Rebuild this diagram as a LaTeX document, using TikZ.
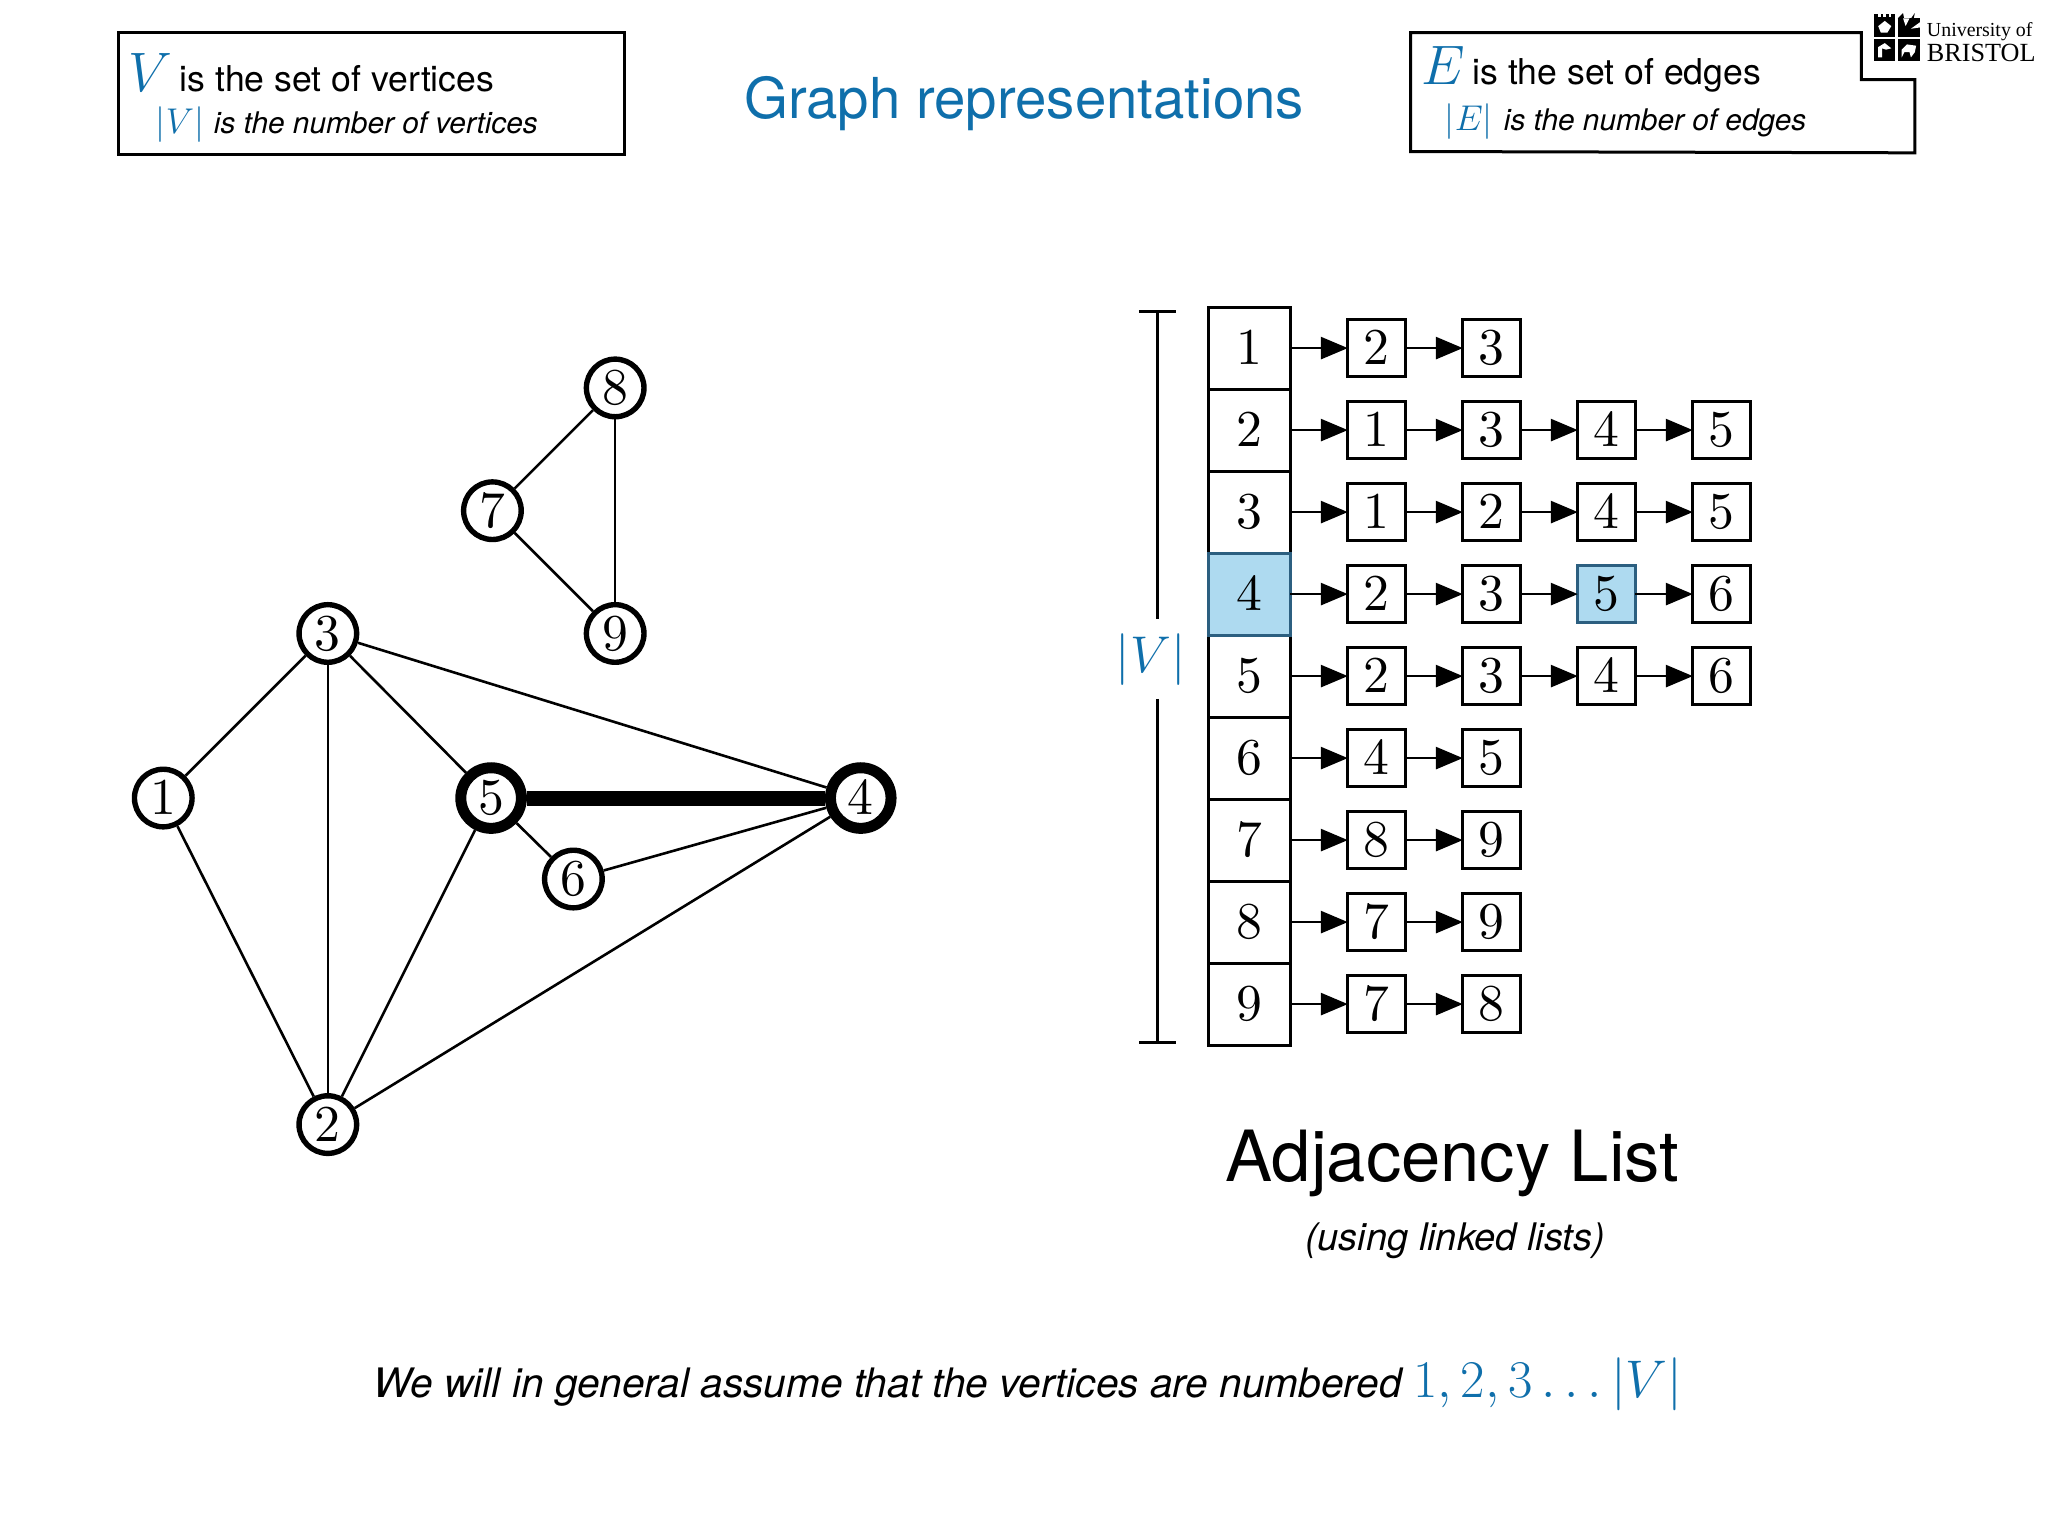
\documentclass[tikz,border=0pt]{standalone}
\usepackage{fix-cm}
\usepackage[no-math]{fontspec}
\setsansfont{TeX Gyre Heros}
\newfontfamily\logofont{Liberation Serif}
\usepackage{xcolor}
\usetikzlibrary{positioning,arrows.meta}
\definecolor{setblue}{HTML}{0F6FAB}
\definecolor{cellblue}{HTML}{AEDAF0}
\definecolor{celledge}{HTML}{2C5F80}
\font\digitfont=cmr10 at 25.85pt

\begin{document}
\begin{tikzpicture}[
                    x=0.65306pt, y=-0.65306pt,
                    >={Triangle[length=13.5pt,width=11pt]},
                    node distance=28.7pt,
                    vert/.style={circle, draw, line width=2.7pt, fill=white, inner sep=0pt, minimum size=28.8pt, font=\digitfont},
                    bigvert/.style={vert, line width=5.5pt, minimum size=30.3pt},
                    edge/.style={line width=1.3pt},
                    cell/.style={rectangle, draw, line width=1.5pt, inner sep=0pt, outer sep=0pt, minimum width=41.1pt, minimum height=41pt, font=\digitfont},
                    item/.style={rectangle, draw, line width=1.5pt, inner sep=0pt, outer sep=0pt, minimum size=28.8pt, font=\digitfont},
                    marked/.style={fill=cellblue, draw=celledge},
                    link/.style={->, line width=1.4pt},
                    rule/.style={line width=1.5pt},
                    bigline/.style={anchor=base west, inner sep=0pt, font=\sffamily\fontsize{17.8}{20}\selectfont},
                    smallline/.style={anchor=base west, inner sep=0pt, font=\sffamily\itshape\fontsize{14.9}{18}\selectfont}
            ]
                \useasboundingbox (0,0) rectangle (1568,1176);

                % top row
                \node [draw, rule, inner sep=0pt, outer sep=0pt, minimum width=252.7pt, minimum height=60.7pt] (vbox) at (284.5,71.5) {};
                \node [bigline] (vset) at (98,70) {\textcolor{setblue}{\fontsize{27.8}{30}\selectfont$V$}\hspace{3.8pt}is the set of vertices};
                \node [smallline] (vnum) at (119,102) {\textcolor{setblue}{\fontsize{17.9}{20}\selectfont$|V|$}\hspace{5pt}is the number of vertices};
                \node [inner sep=0pt, text=setblue, font=\sffamily\fontsize{28.2}{32}\selectfont] (title) at (784,79) {Graph representations};
                \draw [rule] (1080,25) -- (1425,25) -- (1425,61) -- (1466,61) -- (1466,117) -- (1080,116) -- cycle;
                \node [bigline] (eset) at (1088,65) {\textcolor{setblue}{\fontsize{27.8}{30}\selectfont$E$}\hspace{3.8pt}is the set of edges};
                \node [smallline] (enum) at (1106,100) {\textcolor{setblue}{\fontsize{17.9}{20}\selectfont$|E|$}\hspace{5.5pt}is the number of edges};

                % logo
                \fill (1435,11) rectangle (1451,28);
                \fill (1453,14) rectangle (1470,28);
                \fill (1435,30) rectangle (1451,47);
                \fill (1453,30) rectangle (1470,47);
                \fill [white] (1438,11) rectangle (1440,13);
                \fill [white] (1442,11) rectangle (1444,13);
                \fill [white] (1446,11) rectangle (1448,13);
                \fill [white] (1443,16) -- (1448,20) -- (1445,25) -- (1440,25) -- (1438,20) -- cycle;
                \fill (1453,14) -- (1457,10) -- (1459,20) -- cycle;
                \fill (1459,20) -- (1466,10) -- (1464,20) -- cycle;
                \fill [white] (1457,14) -- (1462,14) -- (1459,20) -- cycle;
                \fill [white] (1470,17) -- (1470,21) -- (1463,22) -- cycle;
                \fill [white] (1438,44) -- (1438,36) -- (1443,33) -- (1448,37) -- (1444,38) -- (1441,37) -- (1441,44) -- cycle;
                \fill [white] (1456,38) -- (1460,34) -- (1467,35) -- (1466,40) -- (1463,44) -- (1462,40) -- (1458,40) -- (1456,44) -- cycle;
                \node [anchor=base west, inner sep=0pt, font=\logofont\fontsize{9.95}{12}\selectfont] (uni) at (1475,28) {University of};
                \node [anchor=base west, inner sep=0pt, font=\logofont\fontsize{13.1}{16}\selectfont] (bristol) at (1475,47) {BRISTOL};

                % graph
                \node [vert] (g1) at (125,611) {1};
                \node [vert] (g2) at (251,861) {2};
                \node [vert] (g3) at (251,485) {3};
                \node [bigvert] (g4) at (659,611) {4};
                \node [bigvert] (g5) at (376,611) {5};
                \node [vert] (g6) at (439,673) {6};
                \node [vert] (g7) at (377,391) {7};
                \node [vert] (g8) at (471,297) {8};
                \node [vert] (g9) at (471,485) {9};
                \draw [edge] (g1) -- (g3);
                \draw [edge] (g1) -- (g2);
                \draw [edge] (g3) -- (g2);
                \draw [edge] (g3) -- (g5);
                \draw [edge] (g3) -- (g4);
                \draw [edge] (g5) -- (g2);
                \draw [edge] (g5) -- (g6);
                \draw [edge] (g6) -- (g4);
                \draw [edge] (g4) -- (g2);
                \draw [edge] (g7) -- (g8);
                \draw [edge] (g7) -- (g9);
                \draw [edge] (g8) -- (g9);
                \draw [line width=7.5pt] (g5) -- (g4);

                % column of vertices
                \node [cell] (v1) at (956.5,266.5) {1};
                \node [cell, below=0pt of v1] (v2) {2};
                \node [cell, below=0pt of v2] (v3) {3};
                \node [cell, below=41pt of v3] (v5) {5};
                \node [cell, below=0pt of v5] (v6) {6};
                \node [cell, below=0pt of v6] (v7) {7};
                \node [cell, below=0pt of v7] (v8) {8};
                \node [cell, below=0pt of v8] (v9) {9};
                \node [cell, marked, below=0pt of v3] (v4) {4};

                % bracket
                \node [inner sep=0pt, text=setblue, font=\fontsize{25.85}{30}\selectfont] (vsize) at (881,505) {$|V|$};
                \coordinate (brtop) at (886,237);
                \coordinate (brup) at (886,474);
                \coordinate (brdown) at (886,535);
                \coordinate (brbot) at (886,799);
                \draw [rule, {Bar[width=18.4pt]}-] (brtop) -- (brup);
                \draw [rule, -{Bar[width=18.4pt]}] (brdown) -- (brbot);

                % lists
                \node [item, right=of v1] (a1) {2};
                \node [item, right=of a1] (b1) {3};
                \node [item, right=of v2] (a2) {1};
                \node [item, right=of a2] (b2) {3};
                \node [item, right=of b2] (c2) {4};
                \node [item, right=of c2] (d2) {5};
                \node [item, right=of v3] (a3) {1};
                \node [item, right=of a3] (b3) {2};
                \node [item, right=of b3] (c3) {4};
                \node [item, right=of c3] (d3) {5};
                \node [item, right=of v4] (a4) {2};
                \node [item, right=of a4] (b4) {3};
                \node [item, marked, right=of b4] (c4) {5};
                \node [item, right=of c4] (d4) {6};
                \node [item, right=of v5] (a5) {2};
                \node [item, right=of a5] (b5) {3};
                \node [item, right=of b5] (c5) {4};
                \node [item, right=of c5] (d5) {6};
                \node [item, right=of v6] (a6) {4};
                \node [item, right=of a6] (b6) {5};
                \node [item, right=of v7] (a7) {8};
                \node [item, right=of a7] (b7) {9};
                \node [item, right=of v8] (a8) {7};
                \node [item, right=of a8] (b8) {9};
                \node [item, right=of v9] (a9) {7};
                \node [item, right=of a9] (b9) {8};

                \draw [link] (v1) -- (a1);
                \draw [link] (a1) -- (b1);
                \draw [link] (v2) -- (a2);
                \draw [link] (a2) -- (b2);
                \draw [link] (b2) -- (c2);
                \draw [link] (c2) -- (d2);
                \draw [link] (v3) -- (a3);
                \draw [link] (a3) -- (b3);
                \draw [link] (b3) -- (c3);
                \draw [link] (c3) -- (d3);
                \draw [link] (v4) -- (a4);
                \draw [link] (a4) -- (b4);
                \draw [link] (b4) -- (c4);
                \draw [link] (c4) -- (d4);
                \draw [link] (v5) -- (a5);
                \draw [link] (a5) -- (b5);
                \draw [link] (b5) -- (c5);
                \draw [link] (c5) -- (d5);
                \draw [link] (v6) -- (a6);
                \draw [link] (a6) -- (b6);
                \draw [link] (v7) -- (a7);
                \draw [link] (a7) -- (b7);
                \draw [link] (v8) -- (a8);
                \draw [link] (a8) -- (b8);
                \draw [link] (v9) -- (a9);
                \draw [link] (a9) -- (b9);

                % captions
                \node [inner sep=0pt, font=\sffamily\fontsize{35.3}{40}\selectfont] (adj) at (1112,891) {Adjacency List};
                \node [inner sep=0pt, font=\sffamily\itshape\fontsize{19}{22}\selectfont] (using) at (1114,950) {(using linked lists)};
                \node [anchor=base west, inner sep=0pt, font=\sffamily\itshape\fontsize{20.3}{24}\selectfont] (assume) at (286,1070) {We will in general assume that the vertices are numbered \textcolor{setblue}{\fontsize{26.5}{30}\selectfont$1,2,3\ldots|V|$}};
            \end{tikzpicture}
\end{document}
